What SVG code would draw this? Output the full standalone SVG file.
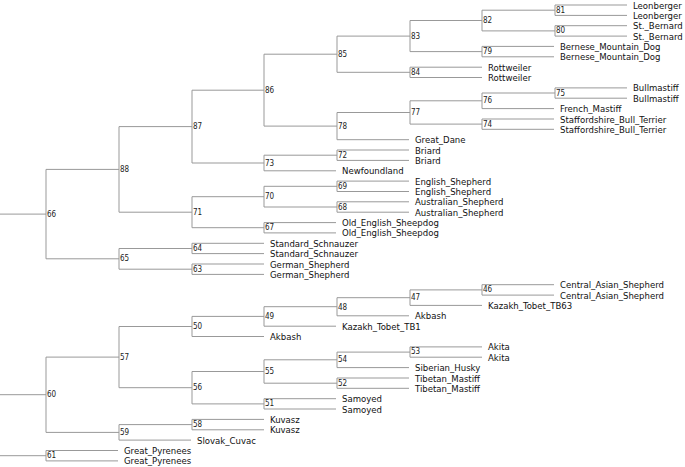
<svg xmlns="http://www.w3.org/2000/svg" width="685" height="467" viewBox="0 0 685 467">
<style>
.c path{fill:none;stroke:#999;stroke-width:1}
.n{font-family:"DejaVu Sans Condensed","DejaVu Sans",sans-serif;font-size:8px;fill:#222}
.l{font-family:"DejaVu Sans Condensed","DejaVu Sans",sans-serif;font-size:9.5px;fill:#111}
</style>
<rect width="685" height="467" fill="#fff"/>
<g class="c" id="connectors">
<path d="M0 214.1H46M0 394.7H46M0 455.7H46"/>
<path d="M119 169.4H46V258.8H119"/>
<path d="M192 126.6H119V212.2H192"/>
<path d="M264 90.2H192V163H264"/>
<path d="M337 54.2H264V126.1H337"/>
<path d="M410 36.1H337V72.3H410"/>
<path d="M482 20.5H410V51.6H482"/>
<path d="M555 10.2H482V30.9H555"/>
<path d="M627 5H555V15.4H627"/>
<path d="M627 25.7H555V36.1H627"/>
<path d="M554 46.4H482V56.8H554"/>
<path d="M482 67.2H410V77.5H482"/>
<path d="M410 112.5H337V139.7H409"/>
<path d="M482 100.8H410V124.1H482"/>
<path d="M555 93H482V108.6H554"/>
<path d="M627 87.9H555V98.2H627"/>
<path d="M554 119H482V129.3H554"/>
<path d="M337 155.2H264V170.8H336"/>
<path d="M409 150H337V160.4H409"/>
<path d="M264 196.7H192V227.7H264"/>
<path d="M337 186.3H264V207H337"/>
<path d="M409 181.1H337V191.5H409"/>
<path d="M409 201.8H337V212.2H409"/>
<path d="M336 222.6H264V232.9H336"/>
<path d="M192 248.5H119V269.2H192"/>
<path d="M264 243.3H192V253.6H264"/>
<path d="M264 264H192V274.4H264"/>
<path d="M119 357.1H46V432.4H119"/>
<path d="M192 326.5H119V387.7H192"/>
<path d="M264 316.4H192V336.5H264"/>
<path d="M337 306.7H264V326.2H336"/>
<path d="M410 297.7H337V315.8H409"/>
<path d="M482 289.9H410V305.4H482"/>
<path d="M554 284.7H482V295.1H554"/>
<path d="M264 371.5H192V403.9H264"/>
<path d="M337 359.8H264V383.2H337"/>
<path d="M410 352.1H337V367.6H409"/>
<path d="M482 346.9H410V357.2H482"/>
<path d="M409 378H337V388.3H409"/>
<path d="M336 398.7H264V409H336"/>
<path d="M192 424.6H119V440.1H191"/>
<path d="M264 419.4H192V429.8H264"/>
<path d="M118 450.5H46V460.9H118"/>
</g>
<g id="n66"><text class="n" x="47" y="217">66</text></g>
<g id="n88"><text class="n" x="120" y="172">88</text></g>
<g id="n87"><text class="n" x="193" y="129">87</text></g>
<g id="n86"><text class="n" x="265" y="93">86</text></g>
<g id="n85"><text class="n" x="338" y="57">85</text></g>
<g id="n83"><text class="n" x="411" y="39">83</text></g>
<g id="n82"><text class="n" x="483" y="23">82</text></g>
<g id="n81"><text class="n" x="556" y="13">81</text></g>
<g id="n80"><text class="n" x="556" y="33">80</text></g>
<g id="n79"><text class="n" x="483" y="54">79</text></g>
<g id="n84"><text class="n" x="411" y="75">84</text></g>
<g id="n78"><text class="n" x="338" y="129">78</text></g>
<g id="n77"><text class="n" x="411" y="115">77</text></g>
<g id="n76"><text class="n" x="483" y="103">76</text></g>
<g id="n75"><text class="n" x="556" y="96">75</text></g>
<g id="n74"><text class="n" x="483" y="127">74</text></g>
<g id="n73"><text class="n" x="265" y="166">73</text></g>
<g id="n72"><text class="n" x="338" y="158">72</text></g>
<g id="n71"><text class="n" x="193" y="215">71</text></g>
<g id="n70"><text class="n" x="265" y="199">70</text></g>
<g id="n69"><text class="n" x="338" y="189">69</text></g>
<g id="n68"><text class="n" x="338" y="210">68</text></g>
<g id="n67"><text class="n" x="265" y="230">67</text></g>
<g id="n65"><text class="n" x="120" y="261">65</text></g>
<g id="n64"><text class="n" x="193" y="251">64</text></g>
<g id="n63"><text class="n" x="193" y="272">63</text></g>
<g id="n60"><text class="n" x="47" y="397">60</text></g>
<g id="n57"><text class="n" x="120" y="360">57</text></g>
<g id="n50"><text class="n" x="193" y="329">50</text></g>
<g id="n49"><text class="n" x="265" y="319">49</text></g>
<g id="n48"><text class="n" x="338" y="310">48</text></g>
<g id="n47"><text class="n" x="411" y="300">47</text></g>
<g id="n46"><text class="n" x="483" y="292">46</text></g>
<g id="n56"><text class="n" x="193" y="390">56</text></g>
<g id="n55"><text class="n" x="265" y="374">55</text></g>
<g id="n54"><text class="n" x="338" y="362">54</text></g>
<g id="n53"><text class="n" x="411" y="354">53</text></g>
<g id="n52"><text class="n" x="338" y="386">52</text></g>
<g id="n51"><text class="n" x="265" y="406">51</text></g>
<g id="n59"><text class="n" x="120" y="435">59</text></g>
<g id="n58"><text class="n" x="193" y="427">58</text></g>
<g id="n61"><text class="n" x="47" y="458">61</text></g>
<g id="leaves">
<text class="l" x="633" y="8.5">Leonberger</text>
<text class="l" x="633" y="18.9">Leonberger</text>
<text class="l" x="633" y="29.2">St._Bernard</text>
<text class="l" x="633" y="39.6">St._Bernard</text>
<text class="l" x="560" y="49.9">Bernese_Mountain_Dog</text>
<text class="l" x="560" y="60.3">Bernese_Mountain_Dog</text>
<text class="l" x="488" y="70.7">Rottweiler</text>
<text class="l" x="488" y="81">Rottweiler</text>
<text class="l" x="633" y="91.4">Bullmastiff</text>
<text class="l" x="633" y="101.7">Bullmastiff</text>
<text class="l" x="560" y="112.1">French_Mastiff</text>
<text class="l" x="560" y="122.5">Staffordshire_Bull_Terrier</text>
<text class="l" x="560" y="132.8">Staffordshire_Bull_Terrier</text>
<text class="l" x="415" y="143.2">Great_Dane</text>
<text class="l" x="415" y="153.5">Briard</text>
<text class="l" x="415" y="163.9">Briard</text>
<text class="l" x="342" y="174.3">Newfoundland</text>
<text class="l" x="415" y="184.6">English_Shepherd</text>
<text class="l" x="415" y="195">English_Shepherd</text>
<text class="l" x="415" y="205.3">Australian_Shepherd</text>
<text class="l" x="415" y="215.7">Australian_Shepherd</text>
<text class="l" x="342" y="226.1">Old_English_Sheepdog</text>
<text class="l" x="342" y="236.4">Old_English_Sheepdog</text>
<text class="l" x="270" y="246.8">Standard_Schnauzer</text>
<text class="l" x="270" y="257.1">Standard_Schnauzer</text>
<text class="l" x="270" y="267.5">German_Shepherd</text>
<text class="l" x="270" y="277.9">German_Shepherd</text>
<text class="l" x="560" y="288.2">Central_Asian_Shepherd</text>
<text class="l" x="560" y="298.6">Central_Asian_Shepherd</text>
<text class="l" x="488" y="308.9">Kazakh_Tobet_TB63</text>
<text class="l" x="415" y="319.3">Akbash</text>
<text class="l" x="342" y="329.7">Kazakh_Tobet_TB1</text>
<text class="l" x="270" y="340">Akbash</text>
<text class="l" x="488" y="350.4">Akita</text>
<text class="l" x="488" y="360.7">Akita</text>
<text class="l" x="415" y="371.1">Siberian_Husky</text>
<text class="l" x="415" y="381.5">Tibetan_Mastiff</text>
<text class="l" x="415" y="391.8">Tibetan_Mastiff</text>
<text class="l" x="342" y="402.2">Samoyed</text>
<text class="l" x="342" y="412.5">Samoyed</text>
<text class="l" x="270" y="422.9">Kuvasz</text>
<text class="l" x="270" y="433.3">Kuvasz</text>
<text class="l" x="197" y="443.6">Slovak_Cuvac</text>
<text class="l" x="124" y="454">Great_Pyrenees</text>
<text class="l" x="124" y="464.4">Great_Pyrenees</text>
</g>
</svg>
